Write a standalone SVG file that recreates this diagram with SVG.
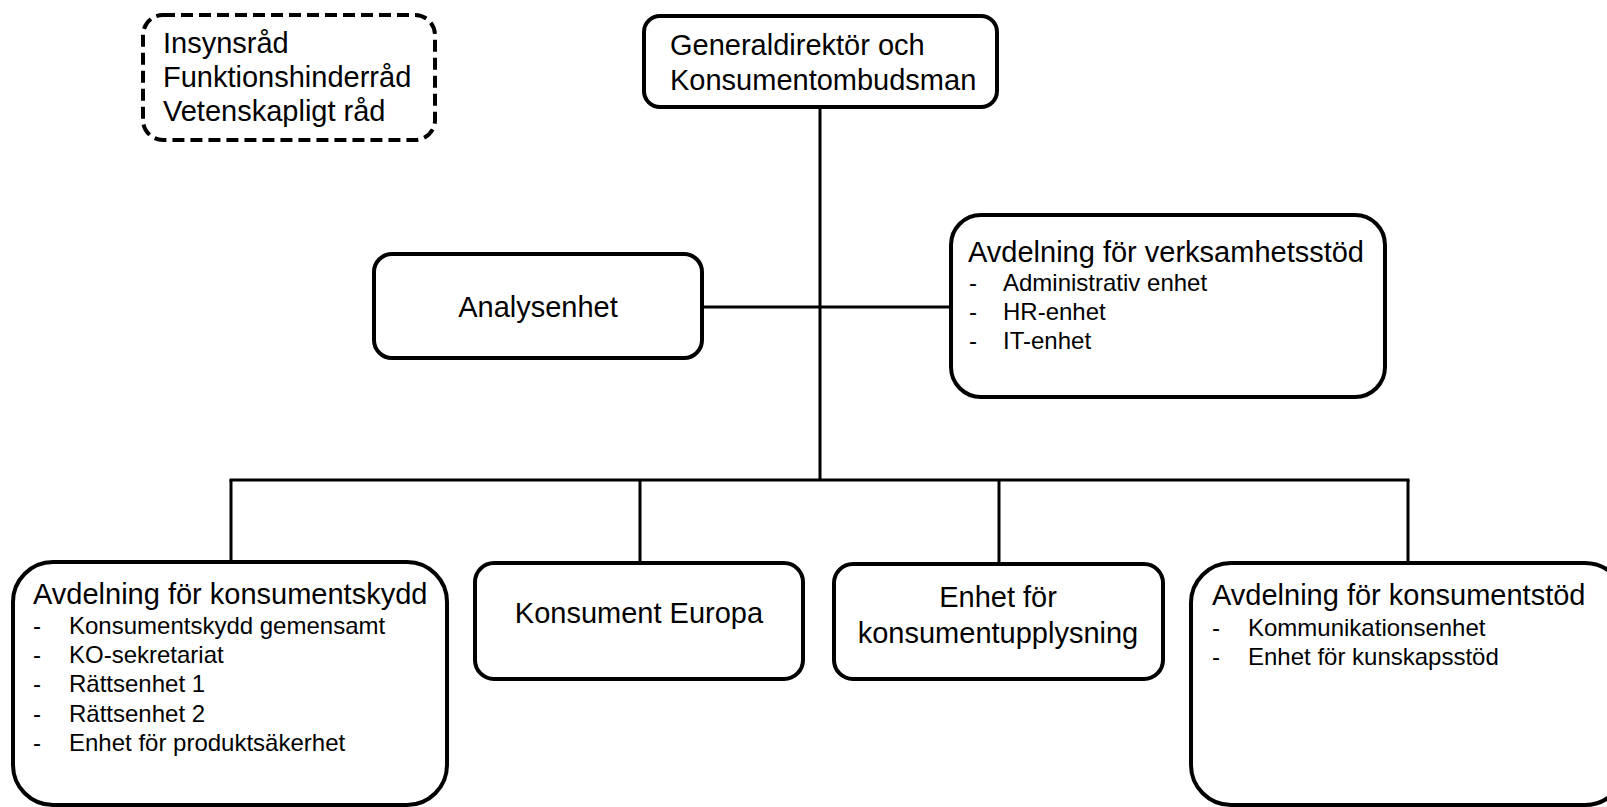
<svg xmlns="http://www.w3.org/2000/svg" width="1607" height="807" viewBox="0 0 1607 807">
<style>
.box{fill:#fff;stroke:#000;stroke-width:4}
.dash{fill:#fff;stroke:#000;stroke-width:4;stroke-dasharray:12 6}
.ln{stroke:#000;stroke-width:3;fill:none}
text{font-family:"Liberation Sans",Arial,sans-serif;fill:#000}
.h{font-size:29px}
.i{font-size:24px}
.c{text-anchor:middle}
</style>
<rect width="1607" height="807" fill="#fff"/>
<g id="connectors">
<line class="ln" x1="820" y1="107" x2="820" y2="481"/>
<line class="ln" x1="702" y1="307" x2="951" y2="307"/>
<line class="ln" x1="229.5" y1="480" x2="1409.5" y2="480"/>
<line class="ln" x1="231" y1="480" x2="231" y2="562"/>
<line class="ln" x1="640" y1="480" x2="640" y2="563"/>
<line class="ln" x1="999" y1="480" x2="999" y2="564"/>
<line class="ln" x1="1408" y1="480" x2="1408" y2="563"/>
</g>
<g id="rad">
<rect class="dash" x="143" y="15" width="292" height="125" rx="20"/>
<text class="h" x="163" y="53">Insynsråd</text>
<text class="h" x="163" y="87">Funktionshinderråd</text>
<text class="h" x="163" y="121">Vetenskapligt råd</text>
</g>
<g id="gd">
<rect class="box" x="644" y="16" width="353" height="91" rx="16"/>
<text class="h" x="670" y="55">Generaldirektör och</text>
<text class="h" x="670" y="90">Konsumentombudsman</text>
</g>
<g id="analys">
<rect class="box" x="374" y="254" width="328" height="104" rx="18"/>
<text class="h c" x="538" y="317">Analysenhet</text>
</g>
<g id="verksamhetsstod">
<rect class="box" x="951" y="215" width="434" height="182" rx="30"/>
<text class="h" x="968" y="262">Avdelning för verksamhetsstöd</text>
<text class="i" x="969" y="291">-</text><text class="i" x="1003" y="291">Administrativ enhet</text>
<text class="i" x="969" y="320">-</text><text class="i" x="1003" y="320">HR-enhet</text>
<text class="i" x="969" y="349">-</text><text class="i" x="1003" y="349">IT-enhet</text>
</g>
<g id="konsumentskydd">
<rect class="box" x="13" y="562" width="434" height="243" rx="40"/>
<text class="h" x="33" y="604">Avdelning för konsumentskydd</text>
<text class="i" x="33" y="634">-</text><text class="i" x="69" y="634">Konsumentskydd gemensamt</text>
<text class="i" x="33" y="663">-</text><text class="i" x="69" y="663">KO-sekretariat</text>
<text class="i" x="33" y="692">-</text><text class="i" x="69" y="692">Rättsenhet 1</text>
<text class="i" x="33" y="722">-</text><text class="i" x="69" y="722">Rättsenhet 2</text>
<text class="i" x="33" y="751">-</text><text class="i" x="69" y="751">Enhet för produktsäkerhet</text>
</g>
<g id="europa">
<rect class="box" x="475" y="563" width="328" height="116" rx="19"/>
<text class="h c" x="639" y="623">Konsument Europa</text>
</g>
<g id="upplysning">
<rect class="box" x="834" y="564" width="329" height="115" rx="19"/>
<text class="h c" x="998" y="607">Enhet för</text>
<text class="h c" x="998" y="643">konsumentupplysning</text>
</g>
<g id="konsumentstod">
<rect class="box" x="1191" y="563" width="434" height="242" rx="40"/>
<text class="h" x="1212" y="605">Avdelning för konsumentstöd</text>
<text class="i" x="1212" y="636">-</text><text class="i" x="1248" y="636">Kommunikationsenhet</text>
<text class="i" x="1212" y="665">-</text><text class="i" x="1248" y="665">Enhet för kunskapsstöd</text>
</g>
</svg>
